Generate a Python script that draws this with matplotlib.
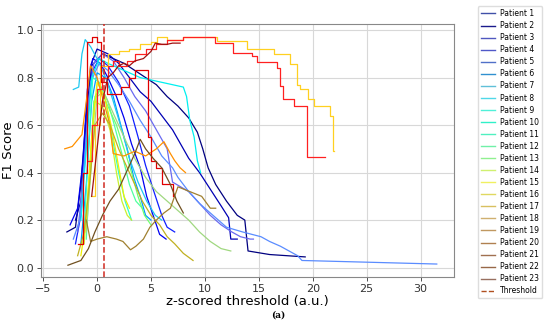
import matplotlib
matplotlib.use("Agg")
import matplotlib.pyplot as plt
from matplotlib.lines import Line2D

# F1 score vs z-scored threshold, one curve per patient
p1_x = [-2.8, -2.0, -1.5, -1.0, -0.5, 0.5, 1.5, 2.5, 3.5, 4.5, 5.5, 6.5, 7.5, 8.5, 9.3, 9.8, 10.3, 11.0, 12.0, 13.0, 13.7, 14.0, 16.0, 19.3]
p1_y = [0.15, 0.17, 0.35, 0.65, 0.85, 0.90, 0.88, 0.86, 0.83, 0.80, 0.77, 0.72, 0.68, 0.63, 0.57, 0.50, 0.42, 0.35, 0.28, 0.22, 0.20, 0.07, 0.055, 0.045]
p2_x = [-2.0, -1.5, -1.0, -0.6, 0.0, 1.0, 2.0, 3.0, 4.0, 5.0, 6.0, 7.0, 7.5, 8.5, 9.5, 10.5, 11.5, 12.2, 12.4, 13.0]
p2_y = [0.20, 0.28, 0.60, 0.85, 0.92, 0.90, 0.86, 0.80, 0.74, 0.70, 0.64, 0.58, 0.54, 0.46, 0.40, 0.33, 0.26, 0.21, 0.12, 0.12]
p3_x = [-2.5, -1.8, -1.3, -0.9, -0.4, 0.3, 1.0, 1.8, 2.5, 3.2, 4.0, 4.6, 5.2, 5.8, 6.4]
p3_y = [0.18, 0.25, 0.45, 0.75, 0.88, 0.86, 0.80, 0.72, 0.63, 0.52, 0.42, 0.30, 0.22, 0.14, 0.12]
p4_x = [-2.0, -1.5, -1.0, -0.5, 0.2, 1.0, 2.0, 3.0, 3.8, 4.5, 5.2, 6.0, 6.5, 7.2]
p4_y = [0.10, 0.22, 0.55, 0.82, 0.88, 0.85, 0.78, 0.68, 0.55, 0.43, 0.33, 0.22, 0.17, 0.15]
p5_x = [-1.8, -1.2, -0.8, -0.3, 0.5, 1.5, 2.5, 3.5, 4.5, 5.5, 6.5, 7.0, 8.5, 9.5, 10.5, 11.5, 12.5, 13.3, 14.2, 14.5]
p5_y = [0.15, 0.40, 0.70, 0.86, 0.90, 0.87, 0.80, 0.72, 0.66, 0.58, 0.50, 0.36, 0.32, 0.27, 0.22, 0.18, 0.15, 0.13, 0.12, 0.12]
p6_x = [-2.2, -1.6, -1.1, -0.6, 0.2, 1.0, 2.0, 3.0, 4.0, 5.0, 6.0, 7.0, 7.5, 8.5, 9.5, 10.5, 12.0, 13.5, 15.2, 16.0, 17.0, 18.6, 19.0, 31.5]
p6_y = [0.12, 0.20, 0.50, 0.78, 0.86, 0.83, 0.77, 0.70, 0.62, 0.55, 0.47, 0.42, 0.38, 0.32, 0.27, 0.23, 0.17, 0.15, 0.13, 0.11, 0.09, 0.05, 0.03, 0.015]
p7_x = [-1.5, -1.0, -0.5, 0.0, 0.8, 1.5, 2.2, 2.8, 3.4, 4.0, 4.5, 5.0]
p7_y = [0.10, 0.35, 0.70, 0.82, 0.80, 0.72, 0.60, 0.50, 0.38, 0.30, 0.22, 0.20]
p8_x = [-2.2, -1.7, -1.4, -1.1, -0.6, 0.0, 0.8, 1.5, 2.3, 3.0, 3.8, 4.6, 5.4, 6.0]
p8_y = [0.75, 0.76, 0.90, 0.96, 0.93, 0.88, 0.80, 0.70, 0.58, 0.46, 0.36, 0.28, 0.22, 0.20]
p9_x = [-1.5, -1.0, -0.5, 0.2, 1.0, 2.0, 3.0, 4.0, 5.0, 6.0, 7.0, 8.0, 8.3, 8.6, 9.0, 9.3, 9.6]
p9_y = [0.20, 0.50, 0.80, 0.88, 0.86, 0.84, 0.82, 0.80, 0.79, 0.78, 0.77, 0.76, 0.72, 0.62, 0.55, 0.45, 0.40]
p10_x = [-1.2, -0.8, -0.4, 0.2, 0.8, 1.4, 2.0, 2.6, 3.2]
p10_y = [0.15, 0.50, 0.80, 0.78, 0.70, 0.55, 0.40, 0.28, 0.20]
p11_x = [-1.0, -0.6, -0.2, 0.4, 1.0, 1.6, 2.3, 3.0, 3.6, 4.2]
p11_y = [0.12, 0.45, 0.72, 0.76, 0.70, 0.60, 0.48, 0.35, 0.28, 0.25]
p12_x = [-1.3, -0.8, -0.3, 0.3, 1.0, 1.8, 2.5, 3.2, 3.8, 4.4, 5.0]
p12_y = [0.10, 0.30, 0.70, 0.75, 0.68, 0.60, 0.50, 0.40, 0.30, 0.22, 0.18]
p13_x = [-1.0, -0.5, 0.0, 0.6, 1.2, 2.0, 2.8, 3.6, 4.5, 5.5, 6.5, 7.5, 8.5, 9.5, 10.5, 11.5, 12.4]
p13_y = [0.15, 0.45, 0.72, 0.74, 0.68, 0.60, 0.52, 0.45, 0.38, 0.32, 0.28, 0.24, 0.20, 0.15, 0.11, 0.08, 0.07]
p14_x = [-1.2, -0.7, -0.2, 0.5, 1.2, 1.8, 2.3, 2.8, 3.2]
p14_y = [0.10, 0.40, 0.70, 0.68, 0.58, 0.40, 0.28, 0.22, 0.20]
p15_x = [-1.5, -1.0, -0.5, 0.0, 0.7, 1.3, 1.9, 2.5, 3.0]
p15_y = [0.05, 0.20, 0.55, 0.78, 0.72, 0.60, 0.45, 0.30, 0.25]
p16_x = [-0.6, -0.2, 0.3, 1.0, 2.0, 3.0, 4.0, 5.0, 5.6, 6.5, 8.0, 11.1, 13.9, 16.4, 17.9, 18.5, 18.8, 19.6, 20.1, 21.6, 21.9, 22.0]
p16_y = [0.30, 0.60, 0.85, 0.90, 0.91, 0.92, 0.94, 0.95, 0.97, 0.96, 0.97, 0.955, 0.92, 0.90, 0.856, 0.77, 0.75, 0.71, 0.68, 0.64, 0.49, 0.49]
p17_x = [-3.0, -2.3, -1.4, -1.0, -0.6, 0.0, 0.6, 1.2, 1.5, 2.5, 3.5, 4.5, 5.5, 6.2, 6.8, 7.2, 7.7, 8.2]
p17_y = [0.50, 0.51, 0.56, 0.70, 0.85, 0.80, 0.70, 0.60, 0.48, 0.47, 0.49, 0.47, 0.50, 0.53, 0.48, 0.45, 0.42, 0.40]
p18_x = [-1.8, -1.2, -0.7, -0.2, 0.5, 1.2, 2.0, 2.8, 3.5, 4.2, 5.0, 5.8, 6.5, 7.2, 8.0, 8.9]
p18_y = [0.05, 0.15, 0.35, 0.60, 0.65, 0.60, 0.50, 0.42, 0.35, 0.28, 0.22, 0.18, 0.13, 0.10, 0.06, 0.03]
p19_x = [-1.0, -0.6, 0.0, 0.9, 1.8, 2.4, 3.1, 3.6, 4.3, 4.9, 5.5, 6.2, 6.8, 7.5, 9.7, 10.5, 11.0]
p19_y = [0.20, 0.11, 0.12, 0.13, 0.12, 0.11, 0.075, 0.09, 0.12, 0.17, 0.20, 0.23, 0.25, 0.34, 0.30, 0.25, 0.25]
p20_x = [-0.8, -0.5, 0.0, 0.5, 1.0, 1.5, 2.0, 2.8, 3.5, 4.5, 5.5, 6.5, 8.0, 10.9, 12.6, 14.4, 14.8, 16.7, 17.0, 17.2, 18.3, 19.5, 21.1]
p20_y = [0.45, 0.60, 0.75, 0.80, 0.85, 0.87, 0.85, 0.87, 0.90, 0.92, 0.94, 0.96, 0.97, 0.946, 0.905, 0.89, 0.865, 0.84, 0.764, 0.71, 0.68, 0.467, 0.467]
p21_x = [-1.8, -1.3, -0.9, -0.5, 0.0, 0.4, 0.9, 1.5, 2.2, 3.0, 3.5, 4.0, 4.7, 5.0, 5.5, 6.0, 7.0]
p21_y = [0.10, 0.40, 0.95, 0.97, 0.95, 0.78, 0.73, 0.73, 0.76, 0.80, 0.83, 0.83, 0.55, 0.45, 0.42, 0.35, 0.30]
p22_x = [-0.5, 0.0, 0.5, 1.0, 1.5, 2.0, 2.5, 3.0, 3.5, 4.3, 5.0, 5.4, 6.0, 6.5, 7.0, 7.7]
p22_y = [0.30, 0.50, 0.70, 0.80, 0.82, 0.85, 0.86, 0.85, 0.87, 0.88, 0.91, 0.945, 0.94, 0.94, 0.945, 0.945]
p23_x = [-2.7, -1.5, -0.8, -0.2, 0.5, 1.2, 2.0, 2.9, 3.5, 4.0, 4.5, 5.2, 6.0, 6.8, 7.4, 8.0]
p23_y = [0.01, 0.03, 0.08, 0.15, 0.22, 0.28, 0.33, 0.42, 0.48, 0.54, 0.50, 0.46, 0.42, 0.35, 0.28, 0.23]

xs = [p1_x, p2_x, p3_x, p4_x, p5_x, p6_x, p7_x, p8_x, p9_x, p10_x, p11_x, p12_x,
      p13_x, p14_x, p15_x, p16_x, p17_x, p18_x, p19_x, p20_x, p21_x, p22_x, p23_x]
ys = [p1_y, p2_y, p3_y, p4_y, p5_y, p6_y, p7_y, p8_y, p9_y, p10_y, p11_y, p12_y,
      p13_y, p14_y, p15_y, p16_y, p17_y, p18_y, p19_y, p20_y, p21_y, p22_y, p23_y]
labels = ["Patient %d" % (i + 1) for i in range(23)]
threshold = 0.6
stepped = [16, 20, 21]  # patients whose curves show coarse steps

# line colours as they show in the plot
line_colors = ["#000080", "#0000b4", "#0000f0", "#1020ff", "#6a6af0", "#5a8cff",
               "#0099ff", "#20c8f0", "#00f0f0", "#30ffc8", "#50ffa0", "#70ff70",
               "#a0d880", "#c8f030", "#f0f000", "#ffd020", "#ff9000", "#c0b020",
               "#a08030", "#ff2020", "#e00000", "#a01010", "#705020"]
# legend swatches are paler than the plotted lines
legend_colors = ["#4050a8", "#1a1a8c", "#5058c0", "#5058c8", "#5070c8", "#3090d0",
                 "#60c0d8", "#50d8e8", "#50f0d8", "#30f0c8", "#50f0c0", "#70f0a8",
                 "#90f090", "#d0f070", "#f0f060", "#e0d860", "#d8c060", "#d0b070",
                 "#c09860", "#b08050", "#a07050", "#986848", "#987060"]

fig = plt.figure(figsize=(5.5, 3.26), dpi=100)
ax = fig.add_axes([0.0745, 0.15, 0.751, 0.776])

for i, (x, y, c) in enumerate(zip(xs, ys, line_colors)):
    ds = "steps-post" if (i + 1) in stepped else "default"
    ax.plot(x, y, drawstyle=ds, color=c, lw=0.9)
ax.axvline(threshold, color="#d02a20", ls="--", lw=1.1, zorder=5)

ax.set_xlim(-5.2, 33.1)
ax.set_ylim(-0.04, 1.025)
ax.set_xticks([-5, 0, 5, 10, 15, 20, 25, 30])
ax.set_yticks([0.0, 0.2, 0.4, 0.6, 0.8, 1.0])
ax.tick_params(labelsize=8, length=3, width=0.6, pad=2, colors="#333333")
ax.grid(True, color="#d8d8d8", lw=0.8)
ax.set_axisbelow(True)
for s in ax.spines.values():
    s.set_color("#888888")
ax.set_xlabel("z-scored threshold (a.u.)", fontsize=9.5, labelpad=1)
ax.set_ylabel("F1 Score", fontsize=9.5, labelpad=1)

handles = [Line2D([], [], color=c, lw=1.0) for c in legend_colors]
handles.append(Line2D([], [], color="#b05020", ls="--", lw=1.0))
fig.legend(handles, labels + ["Threshold"], loc="upper left",
           bbox_to_anchor=(0.862, 0.993), fontsize=5.5, labelspacing=0.4,
           handlelength=1.9, handletextpad=0.6, borderpad=0.4, framealpha=1,
           edgecolor="#dddddd")

fig.text(0.505, 0.035, "(a)", family="DejaVu Serif", fontweight="bold",
         fontsize=6.5, ha="center", va="center")

fig.savefig("out.png", dpi=100)
